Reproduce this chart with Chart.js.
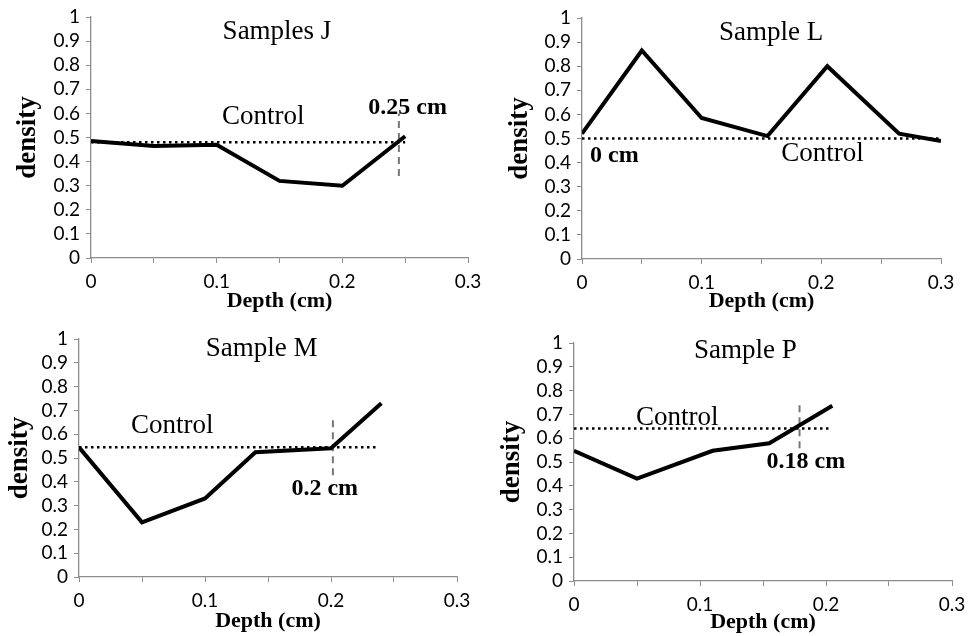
<!DOCTYPE html>
<html>
<head>
<meta charset="utf-8">
<script src="https://cdn.jsdelivr.net/npm/chart.js@4/dist/chart.umd.min.js"></script>
<style>
    body { margin: 0; background: #fff; }
    #wrap { position: relative; width: 968px; height: 636px; }
    canvas { position: absolute; }
</style>
</head>
<body>
<div id="wrap">
    <canvas id="chart-j" width="484" height="318" style="left:0;top:0"></canvas>
    <canvas id="chart-l" width="484" height="318" style="left:484px;top:0"></canvas>
    <canvas id="chart-m" width="484" height="318" style="left:0;top:318px"></canvas>
    <canvas id="chart-p" width="484" height="318" style="left:484px;top:318px"></canvas>
</div>
<script>
// --- data ---
var depthJ = [0, 0.05, 0.1, 0.15, 0.2, 0.25];
var densityJ = [0.485, 0.465, 0.47, 0.32, 0.30, 0.505];
var controlJ = 0.48;
var controlSpanJ = [0, 0.25];
var cutJ = 0.245;

var depthL = [0, 0.05, 0.1, 0.155, 0.205, 0.265, 0.3];
var densityL = [0.52, 0.865, 0.585, 0.51, 0.80, 0.52, 0.49];
var controlL = 0.50;
var controlSpanL = [0, 0.3];

var depthM = [0, 0.05, 0.1, 0.14, 0.2, 0.24];
var densityM = [0.545, 0.23, 0.33, 0.524, 0.541, 0.73];
var controlM = 0.545;
var controlSpanM = [0, 0.236];
var cutM = 0.2015;

var depthP = [0, 0.05, 0.11, 0.155, 0.205];
var densityP = [0.547, 0.43, 0.547, 0.579, 0.736];
var controlP = 0.641;
var controlSpanP = [0, 0.2035];
var cutP = 0.179;

var xTicks = [0, 0.1, 0.2, 0.3];
var yTicks = [0, 0.1, 0.2, 0.3, 0.4, 0.5, 0.6, 0.7, 0.8, 0.9, 1];

var AXIS = '#8c8c8c';
var SERIF = '"Liberation Serif", "Times New Roman", serif';

// draws the free text labels at data coordinates
var textPlugin = {
    id: 'panelText',
    afterDatasetsDraw: function (chart) {
        var notes = chart.options.plugins.panelText.notes || [];
        var ctx = chart.ctx;
        ctx.save();
        ctx.fillStyle = '#000';
        ctx.textAlign = 'center';
        ctx.textBaseline = 'middle';
        notes.forEach(function (n) {
            ctx.font = (n.bold ? 'bold ' : '') + n.size + 'px ' + SERIF;
            ctx.fillText(n.text, chart.scales.x.getPixelForValue(n.x), chart.scales.y.getPixelForValue(n.y));
        });
        ctx.restore();
    }
};

function points(xs, ys) {
    return xs.map(function (x, i) { return { x: x, y: ys[i] }; });
}

function pick(list) {
    return function (v) {
        var hit = list.filter(function (t) { return Math.abs(t - v) < 1e-6; });
        return hit.length ? String(hit[0]) : '';
    };
}

function makePanel(id, opt) {
    var datasets = [
        { data: points(opt.depth, opt.density), borderColor: '#000', borderWidth: 4, pointRadius: 0, borderJoinStyle: 'miter' },
        { data: [{ x: opt.span[0], y: opt.control }, { x: opt.span[1], y: opt.control }], borderColor: '#000', borderWidth: 2.5, borderDash: [2.5, 3.5], pointRadius: 0 }
    ];
    if (opt.cut !== undefined) {
        datasets.push({ data: [{ x: opt.cut, y: opt.cutSpan[0] }, { x: opt.cut, y: opt.cutSpan[1] }], borderColor: '#777', borderWidth: 2, borderDash: [7, 5], pointRadius: 0 });
    }

    new Chart(document.getElementById(id).getContext('2d'), {
        type: 'line',
        data: { datasets: datasets },
        options: {
            responsive: false,
            animation: false,
            layout: { autoPadding: false, padding: { top: opt.padTop, right: opt.padRight, left: 0, bottom: 0 } },
            plugins: {
                legend: { display: false },
                tooltip: { enabled: false },
                panelText: { notes: opt.notes }
            },
            scales: {
                x: {
                    type: 'linear', min: 0, max: 0.3,
                    afterFit: function (s) { s.height = opt.xHeight; s.paddingLeft = 0; s.paddingRight = 0; },
                    grid: { drawOnChartArea: false, color: AXIS, tickLength: 5 },
                    border: { color: AXIS, width: 1.3 },
                    ticks: {
                        stepSize: 0.05, autoSkip: false, maxRotation: 0, padding: 7, color: '#000',
                        font: { family: 'Lato', size: 19 },
                        callback: pick(xTicks)
                    },
                    title: { display: true, text: 'Depth (cm)', color: '#000', font: { family: SERIF, size: 22, weight: 'bold' }, padding: { top: 0, bottom: opt.xTitlePad } }
                },
                y: {
                    min: 0, max: 1,
                    afterFit: function (s) { s.width = opt.yWidth; s.paddingTop = 0; s.paddingBottom = 0; },
                    grid: { drawOnChartArea: false, color: AXIS, tickLength: 5 },
                    border: { color: AXIS, width: 1.3 },
                    ticks: {
                        stepSize: 0.1, autoSkip: false, padding: 6, color: '#000',
                        font: { family: 'Lato', size: 19 },
                        callback: pick(yTicks)
                    },
                    title: { display: true, text: 'density', color: '#000', font: { family: SERIF, size: 27, weight: 'bold' }, padding: { top: opt.yTitlePad, bottom: 0 } }
                }
            }
        },
        plugins: [textPlugin]
    });
}

makePanel('chart-j', {
    depth: depthJ, density: densityJ, control: controlJ, span: controlSpanJ,
    cut: cutJ, cutSpan: [0.34, 0.60],
    padTop: 17, padRight: 16, xHeight: 60, yWidth: 91, xTitlePad: 3, yTitlePad: 12,
    notes: [
        { text: 'Samples J', x: 0.148, y: 0.94, size: 27 },
        { text: 'Control', x: 0.137, y: 0.585, size: 27 },
        { text: '0.25 cm', x: 0.252, y: 0.625, size: 24, bold: true }
    ]
});

makePanel('chart-l', {
    depth: depthL, density: densityL, control: controlL, span: controlSpanL,
    padTop: 18, padRight: 27, xHeight: 59, yWidth: 98, xTitlePad: 3, yTitlePad: 20,
    notes: [
        { text: 'Sample L', x: 0.158, y: 0.94, size: 27 },
        { text: 'Control', x: 0.201, y: 0.435, size: 27 },
        { text: '0 cm', x: 0.027, y: 0.43, size: 24, bold: true }
    ]
});

makePanel('chart-m', {
    depth: depthM, density: densityM, control: controlM, span: controlSpanM,
    cut: cutM, cutSpan: [0.428, 0.674],
    padTop: 21, padRight: 27, xHeight: 59, yWidth: 79, xTitlePad: 1, yTitlePad: 4,
    notes: [
        { text: 'Sample M', x: 0.145, y: 0.958, size: 27 },
        { text: 'Control', x: 0.074, y: 0.635, size: 27 },
        { text: '0.2 cm', x: 0.195, y: 0.372, size: 24, bold: true }
    ]
});

makePanel('chart-p', {
    depth: depthP, density: densityP, control: controlP, span: controlSpanP,
    cut: cutP, cutSpan: [0.558, 0.74],
    padTop: 25, padRight: 16, xHeight: 55, yWidth: 90, xTitlePad: 0, yTitlePad: 12,
    notes: [
        { text: 'Sample P', x: 0.136, y: 0.965, size: 27 },
        { text: 'Control', x: 0.082, y: 0.684, size: 27 },
        { text: '0.18 cm', x: 0.184, y: 0.502, size: 24, bold: true }
    ]
});
</script>
</body>
</html>
